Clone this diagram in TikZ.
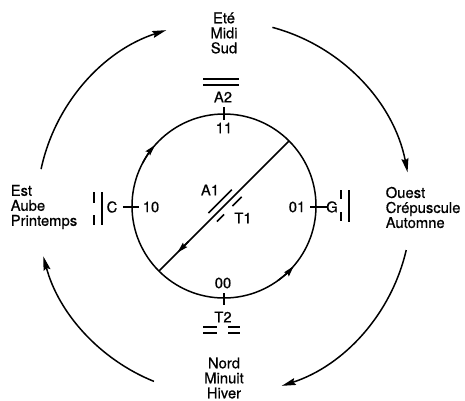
\documentclass[tikz,border=0pt]{standalone}
\usepackage{fontspec}
\setmainfont{TeX Gyre Heros}[FakeBold=0.6]
\usetikzlibrary{arrows.meta}
\begin{document}
\begin{tikzpicture}[x=1pt,y=1pt,line width=1.5pt,
  otip/.style={-{Stealth[length=14pt,width=7pt,inset=2pt]}},
  itip/.style={-{Stealth[length=11pt,width=6pt,inset=1.5pt]}},
  lbl/.style={font=\fontsize{14.8}{15}\selectfont,inner sep=0pt},
  season/.style={lbl,align=center},
  seasonl/.style={lbl,align=left,anchor=west}]
\useasboundingbox (-224,-194) rectangle (241,206);
% season texts
\node[season] (sud) at (0,173) {Eté\\Midi\\Sud};
\node[seasonl] (est) at (-214,-1) {Est\\Aube\\Printemps};
\node[seasonl] (ouest) at (161,-1.5) {Ouest\\Crépuscule\\Automne};
\node[season] (nord) at (0,-172) {Nord\\Minuit\\Hiver};
% outer arcs
\draw[otip] ([shift={(0,-2)}]168:187) arc[start angle=168,end angle=108,radius=187];
\draw[otip] ([shift={(0,-2)}]75:187) arc[start angle=75,end angle=11,radius=187];
\draw[otip] ([shift={(0,-2)}]-13:187) arc[start angle=-13,end angle=-72,radius=187];
\draw[otip] ([shift={(0,-2)}]-112:187) arc[start angle=-112,end angle=-165,radius=187];
% inner circle
\coordinate (o) at (0,0);
\draw (o) circle[radius=92];
\coordinate (ne) at (45:92);
\coordinate (sw) at (225:92);
\draw (ne) -- (sw);
\draw[itip] (225:50) -- (225:66);
\draw[itip] (152:92) arc[start angle=152,end angle=138.5,radius=92];
\draw[itip] (-54:92) arc[start angle=-54,end angle=-40.7,radius=92];
% ticks
\draw (0,86) -- (0,99);
\draw (0,-87) -- (0,-99);
\draw (-101,-1) -- (-85,-1);
\draw (86,-1) -- (103,-1);
% labels
\node[lbl] (n11) at (0,78) {11};
\node[lbl] (n00) at (-1,-77) {00};
\node[lbl] (n10) at (-73,-1) {10};
\node[lbl] (n01) at (73,-1) {01};
\node[lbl] (c) at (-112,-1) {C};
\node[lbl] (g) at (108,-1) {G};
\node[lbl] (a2) at (-1,109) {A2};
\node[lbl] (t2) at (-1,-111) {T2};
\node[lbl] (a1) at (-14,16) {A1};
\node[lbl] (t1) at (19,-12) {T1};
% symbols
\draw (-21,127) -- (15,127);
\draw (-21,121) -- (15,121);
\draw (-21,-121) -- (-7,-121);
\draw (4,-121) -- (16,-121);
\draw (-21,-127) -- (-7,-127);
\draw (4,-127) -- (16,-127);
\draw (-122,14) -- (-122,-19);
\draw (-130,14) -- (-130,3);
\draw (-130,-9) -- (-130,-19);
\draw (117,16) -- (117,7);
\draw (117,-6) -- (117,-15);
\draw (125,16) -- (125,-16);
\begin{scope}[rotate=45]
\draw (-16,6) -- (17,6);
\draw (-16,-6) -- (-6,-6);
\draw (6,-6) -- (19,-6);
\end{scope}
\end{tikzpicture}
\end{document}
